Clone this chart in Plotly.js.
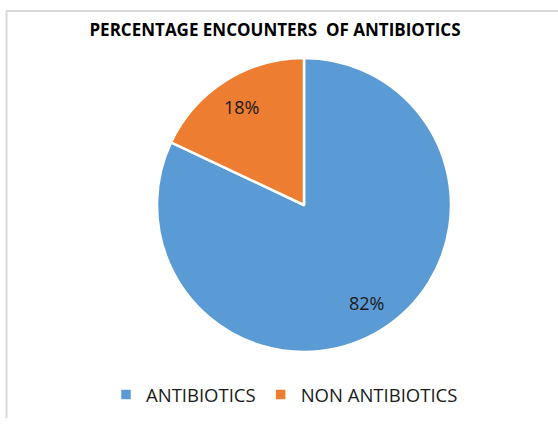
<!DOCTYPE html>
<html>
<head>
<meta charset="utf-8">
<script src="https://cdn.plot.ly/plotly-3.0.1.min.js"></script>
<style>html,body{margin:0;padding:0;background:#fff;}#chart{width:558px;height:425px;}</style>
</head>
<body>
<div id="chart"></div>
<script>
var categories = ["ANTIBIOTICS", "NON ANTIBIOTICS"];
var percentages = [82, 18];
var sliceColors = ["#5B9BD5", "#ED7D31"];

var W = 558, H = 425;
var mL = 157, mR = 107, mT = 58, mB = 73;
var pw = W - mL - mR, ph = H - mT - mB;
function px(x){ return (x - mL) / pw; }
function py(y){ return (H - mB - y) / ph; }

var trace = {
  type: "pie",
  labels: categories,
  values: percentages,
  sort: false,
  direction: "clockwise",
  rotation: 0,
  marker: {colors: sliceColors, line: {color: "#ffffff", width: 2.5}},
  textinfo: "none",
  hoverinfo: "none"
};

// percentage labels placed at each slice's mid-angle, derived from the data
var total = percentages.reduce(function(a, b){ return a + b; }, 0);
var annotations = [];
var cum = 0;
var k = 0.79;
percentages.forEach(function(v){
  var mid = (cum + v / 2) / total;
  var th = mid * 2 * Math.PI;
  annotations.push({
    xref: "paper", yref: "paper",
    x: 0.5 + k * 0.5 * Math.sin(th),
    y: 0.5 + k * 0.5 * Math.cos(th),
    text: v + "%",
    showarrow: false,
    xanchor: "center", yanchor: "middle",
    font: {family: "Open Sans, sans-serif", size: 18, color: "#1a1a1a"}
  });
  cum += v;
});

var layout = {
  width: W, height: H,
  margin: {l: mL, r: mR, t: mT, b: mB, autoexpand: false},
  paper_bgcolor: "#ffffff",
  title: {
    text: "<b>PERCENTAGE ENCOUNTERS  OF ANTIBIOTICS</b>",
    font: {family: "Open Sans, sans-serif", size: 17, color: "#000000"},
    xref: "container", yref: "container",
    x: 275 / W, xanchor: "center",
    y: 1 - 30 / H, yanchor: "middle"
  },
  showlegend: true,
  legend: {
    orientation: "h",
    xref: "paper", yref: "paper",
    x: px(106), xanchor: "left",
    y: py(395), yanchor: "middle",
    font: {family: "Open Sans, sans-serif", size: 18.5, color: "#1a1a1a"},
    traceorder: "normal",
    itemwidth: 30
  },
  annotations: annotations,
  shapes: [
    {type: "line", xref: "paper", yref: "paper", x0: px(6), x1: px(558), y0: py(11), y1: py(11), line: {color: "#d9d9d9", width: 2}},
    {type: "line", xref: "paper", yref: "paper", x0: px(6.5), x1: px(6.5), y0: py(11), y1: py(418), line: {color: "#d9d9d9", width: 2}}
  ]
};

Plotly.newPlot("chart", [trace], layout, {staticPlot: true, displayModeBar: false});
</script>
</body>
</html>
